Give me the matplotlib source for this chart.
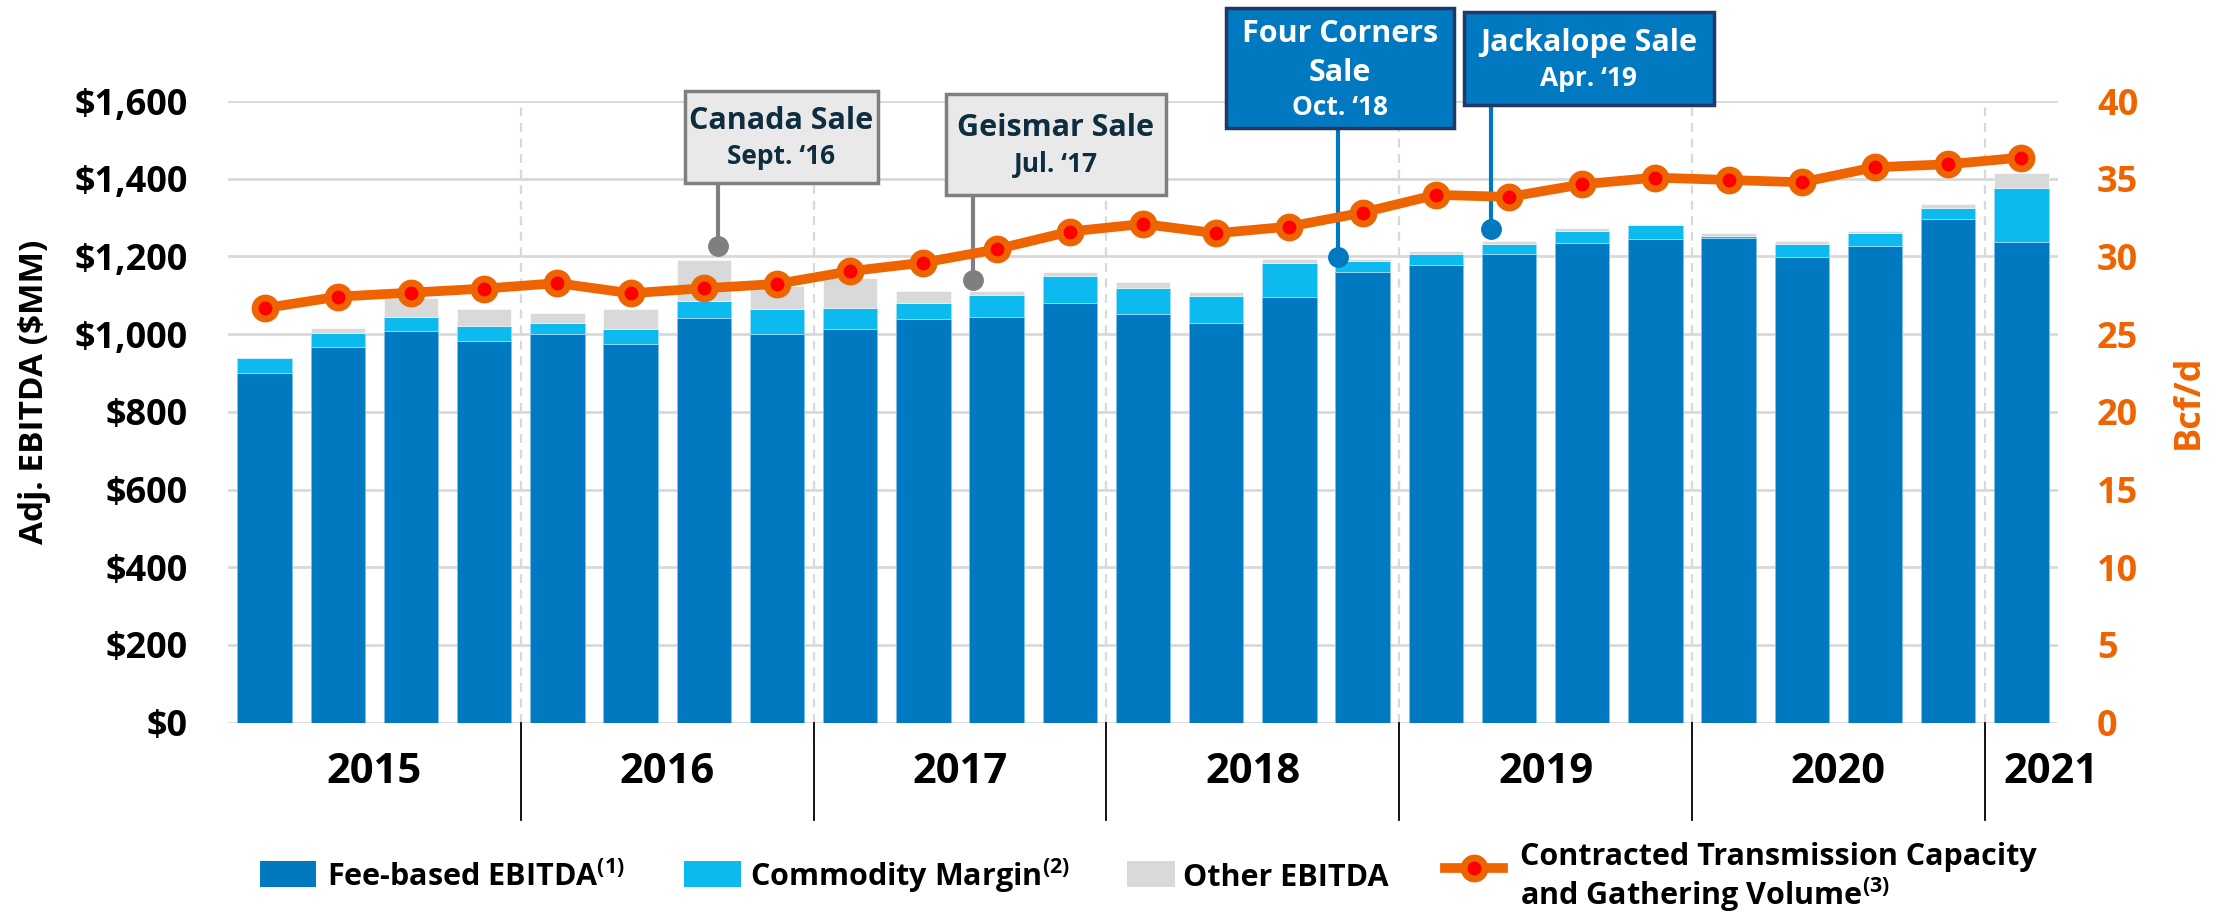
import numpy as np
import matplotlib
matplotlib.use("Agg")
import matplotlib.pyplot as plt
from matplotlib.patches import Rectangle
from matplotlib.lines import Line2D

plt.rcParams['font.family'] = ['Open Sans', 'DejaVu Sans']
plt.rcParams['font.weight'] = 'bold'
plt.rcParams['mathtext.fontset'] = 'custom'
plt.rcParams['mathtext.rm'] = 'Open Sans:bold'
plt.rcParams['mathtext.bf'] = 'Open Sans:bold'

# quarterly data, 2015 Q1 .. 2021 Q1
fee_based = [899, 966, 1009, 983, 1001, 975, 1042, 1001, 1012, 1040, 1045, 1081, 1053,
             1029, 1096, 1161, 1177, 1207, 1235, 1246, 1248, 1199, 1228, 1297, 1236]
commodity = [39, 38, 35, 38, 28, 38, 43, 64, 55, 41, 56, 69, 67,
             70, 88, 28, 29, 26, 30, 36, 5, 32, 33, 28, 141]
other = [0, 12, 48, 44, 25, 51, 106, 60, 77, 30, 10, 9, 14,
         10, 10, 5, 9, 7, 8, 2, 7, 8, 5, 10, 37]
volume = [26.67, 27.41, 27.67, 27.93, 28.28, 27.63, 27.95, 28.23, 29.05, 29.60, 30.46, 31.60, 32.09,
          31.49, 31.92, 32.82, 33.96, 33.83, 34.64, 35.07, 34.92, 34.77, 35.74, 35.93, 36.36]

years = ['2015', '2016', '2017', '2018', '2019', '2020', '2021']
year_pos = [1.5, 5.5, 9.5, 13.5, 17.5, 21.5, 24.4]
year_breaks = [3.5, 7.5, 11.5, 15.5, 19.5, 23.5]

FEE = '#0079C1'
COMM = '#0DBAF0'
OTHER = '#D9D9D9'
ORANGE = '#EE6400'
RED = '#FF0000'
GRID = '#D9D9D9'
NAVY = '#0E2D3F'

W, H = 2221, 913
fig = plt.figure(figsize=(W / 100, H / 100), dpi=100)
ax = fig.add_axes([228 / W, 1 - 722.7 / H, 1830 / W, 621.7 / H])

x = np.arange(len(fee_based))
fee_a = np.array(fee_based)
comm_a = np.array(commodity)
ax.bar(x, fee_a, width=0.745, color=FEE, edgecolor='#7fc0e6', linewidth=0.6, zorder=2)
ax.bar(x, comm_a, bottom=fee_a, width=0.745, color=COMM, edgecolor='#9fdcf5', linewidth=0.6, zorder=2)
ax.bar(x, other, bottom=fee_a + comm_a, width=0.745, color=OTHER, edgecolor='white', linewidth=0.4, zorder=2)

ax.set_xlim(-0.5, 24.5)
ax.set_ylim(0, 1600)
ax.set_yticks(range(0, 1601, 200))
ax.set_yticklabels(['${:,.0f}'.format(v) for v in range(0, 1601, 200)])
ax.set_xticks([])
ax.yaxis.grid(True, color=GRID, lw=2)
ax.set_axisbelow(True)
ax.tick_params(axis='y', length=0, pad=29, labelsize=26, labelcolor='black')
for s in ax.spines.values():
    s.set_visible(False)

for b in year_breaks:
    ax.axvline(b, color=GRID, lw=1.6, ls=(0, (4, 3)), zorder=0.6)
    ax.plot([b, b], [0, -0.1565], color='black', lw=1.3,
            transform=ax.get_xaxis_transform(), clip_on=False)
for yr, p in zip(years, year_pos):
    ax.text(p, -0.0793, yr, transform=ax.get_xaxis_transform(), ha='center', va='center',
            fontsize=30, fontweight='bold', color='black')

ax.text(-0.1055, 0.532, 'Adj. EBITDA ($MM)', transform=ax.transAxes, rotation=90,
        ha='center', va='center', fontsize=24, fontweight='bold', color='black')

ax2 = ax.twinx()
ax2.plot(x, volume, color=ORANGE, lw=7, marker='o', ms=15, mfc=RED, mec=ORANGE, mew=5,
         solid_capstyle='round', zorder=5, clip_on=False)
ax2.set_ylim(0, 40)
ax2.set_yticks(range(0, 41, 5))
ax2.tick_params(axis='y', length=0, pad=28, labelsize=26, labelcolor=ORANGE)
for s in ax2.spines.values():
    s.set_visible(False)
ax2.text(1.0716, 0.516, 'Bcf/d', transform=ax2.transAxes, rotation=90,
         ha='center', va='center', fontsize=26, fontweight='bold', color=ORANGE)


# sale callouts: event position, dot height, box extent, text lines
def callout(cx, dot_y, box, lines, face, edge, txt, pointer):
    x0, x1, y0, y1 = box
    ax.add_patch(Rectangle((x0, y0), x1 - x0, y1 - y0, facecolor=face, edgecolor=edge,
                           lw=2.5, clip_on=False, zorder=6))
    ax.plot([cx, cx], [y0, dot_y], color=pointer, lw=3, clip_on=False, zorder=3)
    ax.plot(cx, dot_y, 'o', ms=14, color=pointer, clip_on=False, zorder=3)
    xc = (x0 + x1) / 2
    for text, ty, size in lines:
        ax.text(xc, ty, text, ha='center', va='center', fontsize=size, fontweight='bold',
                color=txt, zorder=7, clip_on=False)


callout(6.2, 1227, (5.74, 8.38, 1389, 1625),
        [('Canada Sale', 1549, 22), ('Sept. \u201816', 1456, 19)],
        '#E9E9E9', '#7F7F7F', NAVY, '#7F7F7F')
callout(9.68, 1139, (9.31, 12.31, 1358, 1618),
        [('Geismar Sale', 1530, 22), ('Jul. \u201817', 1437, 19)],
        '#E9E9E9', '#7F7F7F', NAVY, '#7F7F7F')
callout(14.66, 1199, (13.13, 16.25, 1531, 1839),
        [('Four Corners', 1772, 22), ('Sale', 1672, 22), ('Oct. \u201818', 1582, 19)],
        FEE, '#1F3864', 'white', FEE)
callout(16.75, 1270, (16.38, 19.80, 1590, 1829),
        [('Jackalope Sale', 1749, 22), ('Apr. \u201819', 1659, 19)],
        FEE, '#1F3864', 'white', FEE)


# legend, laid out in figure pixels
def fx(px):
    return px / W


def fy(py):
    return 1 - py / H


for (x0, x1), color in [((260, 316), FEE), ((684, 741), COMM), ((1127, 1175), OTHER)]:
    fig.add_artist(Rectangle((fx(x0), fy(887)), fx(x1) - fx(x0), fy(861) - fy(887),
                             transform=fig.transFigure, facecolor=color, edgecolor='none'))
fig.text(fx(327), fy(886), 'Fee-based EBITDA$^{\\mathbf{(1)}}$', fontsize=22, fontweight='bold', va='baseline')
fig.text(fx(750), fy(886), 'Commodity Margin$^{\\mathbf{(2)}}$', fontsize=22, fontweight='bold', va='baseline')
fig.text(fx(1183), fy(886), 'Other EBITDA', fontsize=22, fontweight='bold', va='baseline')
fig.add_artist(Line2D([fx(1445), fx(1503)], [fy(868), fy(868)], transform=fig.transFigure,
                      color=ORANGE, lw=7))
fig.add_artist(Line2D([fx(1474)], [fy(868)], transform=fig.transFigure, marker='o', ms=15,
                      mfc=RED, mec=ORANGE, mew=5))
fig.text(fx(1520), fy(865), 'Contracted Transmission Capacity', fontsize=22, fontweight='bold', va='baseline')
fig.text(fx(1520), fy(905), 'and Gathering Volume$^{\\mathbf{(3)}}$', fontsize=22, fontweight='bold', va='baseline')

fig.savefig('out.png', dpi=100)
